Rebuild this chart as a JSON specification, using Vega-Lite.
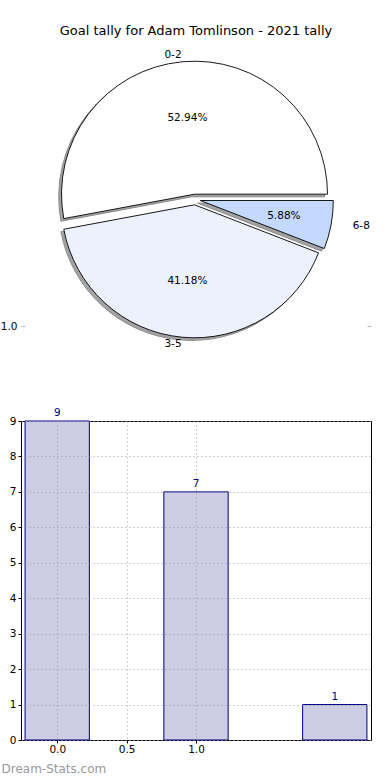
{
  "$schema": "https://vega.github.io/schema/vega-lite/v6.json",
  "padding": {"left": 0, "top": 24, "right": 0, "bottom": 0},
  "background": "white",
  "bounds": "flush",
  "spacing": 95,
  "config": {"font": "DejaVu Sans", "view": {"stroke": null}},
  "datasets": {
    "pie": [
      {"goals": "0-2", "count": 9, "pct": "52.94%"},
      {"goals": "3-5", "count": 7, "pct": "41.18%"},
      {"goals": "6-8", "count": 1, "pct": "5.88%"}
    ],
    "bars": [
      {"goals": 0, "count": 9},
      {"goals": 1, "count": 7},
      {"goals": 2, "count": 1}
    ]
  },
  "vconcat": [
    {
      "width": 350,
      "height": 253,
      "title": {"text": "Goal tally for Adam Tomlinson - 2021 tally", "frame": "group", "anchor": "middle", "offset": 0.5, "fontSize": 13, "fontWeight": "normal", "color": "black"},
      "data": {"name": "pie"},
      "resolve": {"scale": {"y": "independent"}, "axis": {"y": "independent"}},
      "layer": [
        {
          "encoding": {
            "theta": {"field": "count", "type": "quantitative", "stack": true, "scale": {"range": [1.5707963, -4.712389]}},
            "order": {"field": "goals", "type": "ordinal", "sort": "ascending"}
          },
          "layer": [
            {"mark": {"type": "arc", "outerRadius": 133, "xOffset": -4.3, "yOffset": -2.7, "fill": "#a3a3a3", "stroke": "#8a8a8a", "strokeWidth": 1},
             "encoding": {"opacity": {"condition": {"test": "datum.goals === '0-2'", "value": 1}, "value": 0}}},
            {"mark": {"type": "arc", "outerRadius": 133, "xOffset": -4.3, "yOffset": 7.9, "fill": "#a3a3a3", "stroke": "#8a8a8a", "strokeWidth": 1},
             "encoding": {"opacity": {"condition": {"test": "datum.goals === '3-5'", "value": 1}, "value": 0}}},
            {"mark": {"type": "arc", "outerRadius": 133, "xOffset": 1.5, "yOffset": 3.6, "fill": "#a3a3a3", "stroke": "#8a8a8a", "strokeWidth": 1},
             "encoding": {"opacity": {"condition": {"test": "datum.goals === '6-8'", "value": 1}, "value": 0}}},
            {"mark": {"type": "arc", "outerRadius": 133, "xOffset": -1.5, "yOffset": -5.3, "fill": "#ffffff", "stroke": "#000000", "strokeWidth": 0.9},
             "encoding": {"opacity": {"condition": {"test": "datum.goals === '0-2'", "value": 1}, "value": 0}}},
            {"mark": {"type": "arc", "outerRadius": 133, "xOffset": -1.5, "yOffset": 5.3, "fill": "#ecf1fd", "stroke": "#000000", "strokeWidth": 0.9},
             "encoding": {"opacity": {"condition": {"test": "datum.goals === '3-5'", "value": 1}, "value": 0}}},
            {"mark": {"type": "arc", "outerRadius": 133, "xOffset": 4.3, "yOffset": 1.0, "fill": "#c5d8fe", "stroke": "#000000", "strokeWidth": 0.9},
             "encoding": {"opacity": {"condition": {"test": "datum.goals === '6-8'", "value": 1}, "value": 0}}},
            {"mark": {"type": "text", "radius": 77, "xOffset": -1.5, "yOffset": -5.3, "fontSize": 10.5, "color": "black", "baseline": "middle", "align": "center"},
             "encoding": {"text": {"field": "pct"}, "opacity": {"condition": {"test": "datum.goals === '0-2'", "value": 1}, "value": 0}}},
            {"mark": {"type": "text", "radius": 77, "xOffset": -1.5, "yOffset": 5.3, "fontSize": 10.5, "color": "black", "baseline": "middle", "align": "center"},
             "encoding": {"text": {"field": "pct"}, "opacity": {"condition": {"test": "datum.goals === '3-5'", "value": 1}, "value": 0}}},
            {"mark": {"type": "text", "radius": 85, "xOffset": 4.3, "yOffset": 1.0, "fontSize": 10.5, "color": "black", "baseline": "middle", "align": "center"},
             "encoding": {"text": {"field": "pct"}, "opacity": {"condition": {"test": "datum.goals === '6-8'", "value": 1}, "value": 0}}},
            {"mark": {"type": "text", "radius": 140, "xOffset": -1.5, "yOffset": -5.3, "fontSize": 10.5, "color": "black", "baseline": "middle", "align": "right"},
             "encoding": {"text": {"field": "goals"}, "opacity": {"condition": {"test": "datum.goals === '0-2'", "value": 1}, "value": 0}}},
            {"mark": {"type": "text", "radius": 140, "xOffset": -1.5, "yOffset": 5.3, "fontSize": 10.5, "color": "black", "baseline": "middle", "align": "right"},
             "encoding": {"text": {"field": "goals"}, "opacity": {"condition": {"test": "datum.goals === '3-5'", "value": 1}, "value": 0}}},
            {"mark": {"type": "text", "radius": 155, "xOffset": 4.3, "yOffset": -2.0, "fontSize": 10.5, "color": "black", "baseline": "middle", "align": "left"},
             "encoding": {"text": {"field": "goals"}, "opacity": {"condition": {"test": "datum.goals === '6-8'", "value": 1}, "value": 0}}}
          ]
        },
        {
          "mark": {"type": "point", "opacity": 0},
          "encoding": {
            "y": {"datum": 1, "type": "quantitative", "scale": {"domain": [1, 2], "nice": false, "zero": false},
                  "axis": {"orient": "left", "values": [1], "format": ".1f", "domain": false, "grid": false, "title": null, "tickColor": "#b5b5b5", "tickSize": -4, "labelPadding": 8, "labelFontSize": 10.5, "labelColor": "black"}}
          }
        },
        {
          "mark": {"type": "point", "opacity": 0},
          "encoding": {
            "y": {"datum": 1, "type": "quantitative", "scale": {"domain": [1, 2], "nice": false, "zero": false},
                  "axis": {"orient": "right", "values": [1], "labels": false, "domain": false, "grid": false, "title": null, "tickColor": "#b5b5b5", "tickSize": -4}}
          }
        }
      ]
    },
    {
      "width": 350,
      "height": 319,
      "view": {"stroke": "black", "strokeWidth": 1},
      "data": {"name": "bars"},
      "encoding": {
        "x": {"field": "goals", "type": "quantitative", "scale": {"domain": [-0.225, 2.225], "nice": false, "zero": false},
              "axis": {"values": [0, 0.5, 1], "format": ".1f", "domain": false, "grid": true, "gridDash": [1, 3], "gridColor": "#a0a0a0", "gridWidth": 1, "tickColor": "black", "tickSize": 3, "labelPadding": 1, "labelFontSize": 10.5, "labelColor": "black", "zindex": 1,
                       "title": "Dream-Stats.com", "titleAnchor": "start", "titleAlign": "left", "titleX": -20, "titleY": 23, "titleColor": "#999999", "titleFontSize": 12, "titleFontWeight": "normal", "titleBaseline": "top"}},
        "y": {"field": "count", "type": "quantitative", "scale": {"domain": [0, 9], "nice": false},
              "axis": {"values": [0, 1, 2, 3, 4, 5, 6, 7, 8, 9], "labelOverlap": false, "domain": false, "grid": true, "gridDash": [1, 3], "gridColor": "#a0a0a0", "gridWidth": 1, "tickColor": "black", "tickSize": 3, "labelPadding": 2, "labelFontSize": 10.5, "labelColor": "black", "title": null, "zindex": 1}}
      },
      "layer": [
        {"mark": {"type": "bar", "size": 64.3, "fill": "#ccccE5", "stroke": "#000080", "strokeWidth": 1}},
        {"mark": {"type": "text", "baseline": "bottom", "dy": -3, "color": "#000080", "fontSize": 10.5},
         "encoding": {"text": {"field": "count"}}}
      ]
    }
  ]
}
